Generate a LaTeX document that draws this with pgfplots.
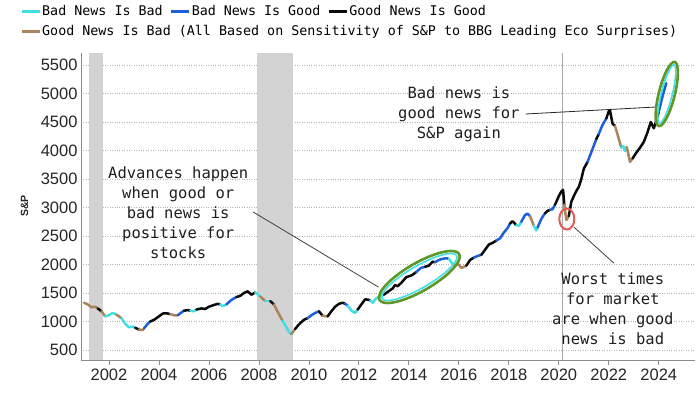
\documentclass[border=0pt]{standalone}
\usepackage{pgfplots}
\pgfplotsset{compat=1.18}
\usepackage{fontspec}
\setmainfont{Liberation Sans}
\newfontfamily\monof{DejaVu Sans Mono}
\usetikzlibrary{shapes.geometric}
\definecolor{cyanC}{RGB}{64,224,228}
\definecolor{blueC}{RGB}{30,95,215}
\definecolor{blackC}{RGB}{10,10,10}
\definecolor{brownC}{RGB}{170,132,90}
\definecolor{bandC}{RGB}{211,211,211}
\definecolor{greenC}{RGB}{95,150,40}
\definecolor{redC}{RGB}{228,90,85}
\begin{document}
\begin{tikzpicture}
\begin{axis}[
 at={(0,0)}, anchor=south west,
 scale only axis, width=614pt, height=307pt,
 xmin=2000.88, xmax=2025.45, ymin=325, ymax=5710,
 clip=false,
 axis x line*=bottom, axis y line*=left,
 axis line style={black!45, line width=0.8pt, -},
 xtick={2002,2004,...,2024},
 ytick={500,1000,...,5500},
 /pgf/number format/1000 sep={},
 /pgf/number format/assume math mode=true,
 tick label style={font=\fontsize{16.5}{18}\selectfont, text=black!85},
 xtick align=outside, major tick length=5pt,
 tick style={black!45, line width=0.8pt},
 ytick style={draw=none},
 ymajorgrids, grid style={black!30, dotted, line width=0.9pt},
 ylabel={S\&P}, ylabel style={at={(axis description cs:-0.092,0.502)}, anchor=center, font=\bfseries\fontsize{10.5}{11}\selectfont, text=black!85},
 legend columns=3, legend cell align=left,
 legend style={at={(axis description cs:0,1)}, anchor=north west, xshift=-61pt, yshift=49pt, draw=none, fill=none, inner sep=0pt, font=\monof\fontsize{13.35}{13.35}\selectfont, row sep=5pt, nodes={inner sep=1pt, text height=10pt, text depth=3pt}, /tikz/every even column/.append style={column sep=6pt}},
 legend image code/.code={\draw[#1, line width=3pt] (0pt,0pt) -- (18pt,0pt);},
 seg/.style={line width=2.5pt, line cap=round, line join=round, forget plot, mark=none},
]
\addlegendimage{cyanC}\addlegendentry{Bad News Is Bad}
\addlegendimage{blueC}\addlegendentry{Bad News Is Good}
\addlegendimage{blackC}\addlegendentry{Good News Is Good}
\addlegendimage{brownC}\addlegendentry{\makebox[0pt][l]{Good News Is Bad (All Based on Sensitivity of S\&P to BBG Leading Eco Surprises)}}

% recession bands and Covid line
\fill[bandC] (axis cs:2001.20,325) rectangle (axis cs:2001.77,5710);
\fill[bandC] (axis cs:2007.93,325) rectangle (axis cs:2009.37,5710);
\draw[black!35, line width=0.7pt] (axis cs:2020.15,325) -- (axis cs:2020.15,5710);

\addplot[seg,brownC] coordinates {(2001.00,1330)(2001.15,1300)(2001.30,1250)(2001.45,1260)(2001.55,1230)};
\addplot[seg,blackC] coordinates {(2001.55,1230)(2001.70,1180)};
\addplot[seg,brownC] coordinates {(2001.70,1180)(2001.85,1090)};
\addplot[seg,cyanC] coordinates {(2001.85,1090)(2002.00,1110)(2002.15,1150)(2002.30,1120)};
\addplot[seg,brownC] coordinates {(2002.30,1120)(2002.50,1060)};
\addplot[seg,cyanC] coordinates {(2002.50,1060)(2002.65,960)(2002.80,900)(2002.95,910)(2003.05,890)};
\addplot[seg,blackC] coordinates {(2003.05,890)(2003.20,860)};
\addplot[seg,brownC] coordinates {(2003.20,860)(2003.35,850)(2003.40,880)};
\addplot[seg,blueC] coordinates {(2003.40,880)(2003.55,960)(2003.65,1000)};
\addplot[seg,blackC] coordinates {(2003.65,1000)(2003.80,1030)(2004.00,1090)(2004.15,1140)(2004.30,1145)(2004.45,1130)};
\addplot[seg,brownC] coordinates {(2004.45,1130)(2004.60,1110)(2004.75,1110)};
\addplot[seg,blueC] coordinates {(2004.75,1110)(2004.90,1160)(2005.00,1190)};
\addplot[seg,blackC] coordinates {(2005.00,1190)(2005.15,1200)(2005.25,1190)};
\addplot[seg,cyanC] coordinates {(2005.25,1190)(2005.40,1180)(2005.50,1210)};
\addplot[seg,blackC] coordinates {(2005.50,1210)(2005.70,1230)(2005.85,1220)(2006.00,1260)(2006.20,1290)(2006.35,1310)(2006.45,1300)};
\addplot[seg,cyanC] coordinates {(2006.45,1300)(2006.55,1270)(2006.70,1300)};
\addplot[seg,blueC] coordinates {(2006.70,1300)(2006.90,1380)(2007.10,1430)};
\addplot[seg,blackC] coordinates {(2007.10,1430)(2007.25,1450)(2007.40,1500)(2007.55,1530)(2007.70,1470)(2007.85,1510)};
\addplot[seg,cyanC] coordinates {(2007.85,1510)(2008.05,1440)};
\addplot[seg,brownC] coordinates {(2008.05,1440)(2008.25,1360)};
\addplot[seg,cyanC] coordinates {(2008.25,1360)(2008.45,1360)};
\addplot[seg,blackC] coordinates {(2008.45,1360)(2008.60,1300)};
\addplot[seg,brownC] coordinates {(2008.60,1300)(2008.75,1170)(2008.95,1010)};
\addplot[seg,cyanC] coordinates {(2008.95,1010)(2009.10,900)(2009.20,820)(2009.30,780)};
\addplot[seg,brownC] coordinates {(2009.30,780)(2009.45,870)};
\addplot[seg,blackC] coordinates {(2009.45,870)(2009.60,950)(2009.80,1030)(2009.95,1060)};
\addplot[seg,blueC] coordinates {(2009.95,1060)(2010.10,1110)(2010.25,1150)(2010.40,1180)};
\addplot[seg,blackC] coordinates {(2010.40,1180)(2010.55,1100)};
\addplot[seg,brownC] coordinates {(2010.55,1100)(2010.75,1090)};
\addplot[seg,blackC] coordinates {(2010.75,1090)(2010.90,1180)(2011.05,1260)(2011.20,1310)(2011.35,1330)(2011.45,1310)};
\addplot[seg,blueC] coordinates {(2011.45,1310)(2011.55,1280)};
\addplot[seg,cyanC] coordinates {(2011.55,1280)(2011.70,1190)(2011.85,1150)(2011.95,1210)};
\addplot[seg,blackC] coordinates {(2011.95,1210)(2012.10,1300)(2012.25,1390)(2012.40,1380)(2012.45,1370)};
\addplot[seg,cyanC] coordinates {(2012.45,1370)(2012.55,1330)(2012.70,1410)(2012.85,1440)(2013.00,1470)};
\addplot[seg,blackC] coordinates {(2013.00,1470)(2013.15,1520)(2013.35,1580)(2013.45,1640)(2013.55,1620)(2013.70,1680)(2013.90,1780)(2014.05,1800)(2014.15,1820)(2014.30,1870)};
\addplot[seg,blueC] coordinates {(2014.30,1870)(2014.45,1930)(2014.55,1950)(2014.65,1960)};
\addplot[seg,blackC] coordinates {(2014.65,1960)(2014.80,1980)(2014.95,2050)(2015.05,2040)};
\addplot[seg,blueC] coordinates {(2015.05,2040)(2015.20,2080)(2015.35,2100)(2015.50,2110)(2015.60,2100)};
\addplot[seg,cyanC] coordinates {(2015.60,2100)(2015.70,2040)(2015.80,1990)};
\addplot[seg,brownC] coordinates {(2015.80,1990)(2016.00,2000)(2016.10,1940)(2016.30,1980)};
\addplot[seg,blackC] coordinates {(2016.30,1980)(2016.45,2080)(2016.60,2120)};
\addplot[seg,blueC] coordinates {(2016.60,2120)(2016.75,2150)(2016.90,2170)};
\addplot[seg,blackC] coordinates {(2016.90,2170)(2017.05,2260)(2017.20,2350)(2017.35,2380)(2017.50,2420)};
\addplot[seg,blueC] coordinates {(2017.50,2420)(2017.65,2460)(2017.80,2560)(2017.95,2640)(2018.05,2720)};
\addplot[seg,blackC] coordinates {(2018.05,2720)(2018.15,2760)(2018.30,2690)};
\addplot[seg,cyanC] coordinates {(2018.30,2690)(2018.40,2680)(2018.50,2750)};
\addplot[seg,blueC] coordinates {(2018.50,2750)(2018.65,2870)(2018.75,2890)(2018.85,2850)};
\addplot[seg,brownC] coordinates {(2018.85,2850)(2019.00,2680)};
\addplot[seg,cyanC] coordinates {(2019.00,2680)(2019.10,2600)(2019.15,2650)};
\addplot[seg,blueC] coordinates {(2019.15,2650)(2019.30,2800)(2019.45,2900)};
\addplot[seg,blackC] coordinates {(2019.45,2900)(2019.55,2940)(2019.65,2960)};
\addplot[seg,blueC] coordinates {(2019.65,2960)(2019.75,2970)(2019.85,3050)};
\addplot[seg,blackC] coordinates {(2019.85,3050)(2020.00,3200)(2020.10,3280)(2020.17,3310)(2020.22,3050)};
\addplot[seg,brownC] coordinates {(2020.22,3050)(2020.30,2780)(2020.40,2850)};
\addplot[seg,blackC] coordinates {(2020.40,2850)(2020.50,3100)(2020.60,3200)(2020.70,3290)(2020.80,3360)(2020.90,3500)(2021.00,3680)(2021.15,3800)};
\addplot[seg,blueC] coordinates {(2021.15,3800)(2021.30,3970)(2021.50,4200)};
\addplot[seg,blackC] coordinates {(2021.50,4200)(2021.60,4290)};
\addplot[seg,blueC] coordinates {(2021.60,4290)(2021.75,4450)(2021.90,4560)};
\addplot[seg,blackC] coordinates {(2021.90,4560)(2022.00,4690)(2022.05,4700)(2022.15,4470)(2022.25,4430)};
\addplot[seg,brownC] coordinates {(2022.25,4430)(2022.35,4280)(2022.50,4050)};
\addplot[seg,cyanC] coordinates {(2022.50,4050)(2022.58,4080)(2022.65,3990)(2022.72,4060)};
\addplot[seg,brownC] coordinates {(2022.72,4060)(2022.85,3800)(2022.95,3860)};
\addplot[seg,blackC] coordinates {(2022.95,3860)(2023.10,3960)(2023.25,4050)(2023.40,4150)(2023.55,4320)(2023.68,4500)(2023.80,4390)(2023.92,4550)(2024.00,4680)};
\addplot[seg,blueC] coordinates {(2024.00,4680)(2024.15,4950)(2024.30,5180)};

% annotations
\node[font=\monof\fontsize{15.5}{20}\selectfont, align=center, text=black!88] at (axis cs:2004.77,2904) {Advances happen\\when good or\\bad news is\\positive for\\stocks};
\draw[black!75, line width=0.8pt] (axis cs:2007.77,2921) -- (axis cs:2012.78,1605);
\node[ellipse, draw=cyanC, line width=1.6pt, minimum width=86pt, minimum height=22pt, inner sep=0pt, rotate=30] at (axis cs:2014.42,1781) {};
\node[ellipse, draw=greenC, line width=2.6pt, minimum width=92pt, minimum height=28pt, inner sep=0pt, rotate=30] at (axis cs:2014.42,1781) {};

\node[font=\monof\fontsize{15.5}{20}\selectfont, align=center, text=black!88] at (axis cs:2016.0,4640) {Bad news is\\good news for\\S\&P again};
\draw[black!85, line width=0.8pt] (axis cs:2018.67,4640) -- (axis cs:2023.88,4763);
\node[ellipse, draw=cyanC, line width=1.6pt, minimum width=60pt, minimum height=11pt, inner sep=0pt, rotate=76] at (axis cs:2024.32,4991) {};
\node[ellipse, draw=greenC, line width=2.6pt, minimum width=66pt, minimum height=16pt, inner sep=0pt, rotate=76] at (axis cs:2024.32,4991) {};

\node[ellipse, draw=redC, line width=2pt, minimum width=15pt, minimum height=21pt, inner sep=0pt] at (axis cs:2020.32,2798) {};
\draw[black!75, line width=0.8pt] (axis cs:2020.6,2658) -- (axis cs:2022.2,2026);
\node[font=\monof\fontsize{15.5}{20}\selectfont, align=center, text=black!88] at (axis cs:2022.16,1228) {Worst times\\for market\\are when good\\news is bad};
\end{axis}
\pgfresetboundingbox
\path[use as bounding box] (-81pt,-34pt) rectangle (619pt,360pt);
\end{tikzpicture}
\end{document}
